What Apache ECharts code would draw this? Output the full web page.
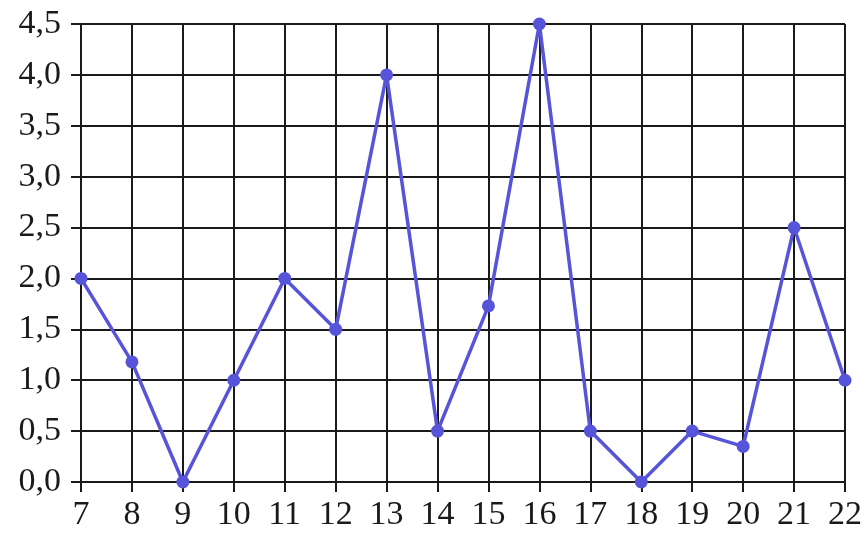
<!DOCTYPE html>
<html>
<head>
<meta charset="utf-8">
<script src="https://cdn.jsdelivr.net/npm/echarts@6/dist/echarts.min.js"></script>
<style>html,body{margin:0;padding:0;background:#fff}#c{width:866px;height:538px}</style>
</head>
<body>
<div id="c"></div>
<script>
var xValues = [7, 8, 9, 10, 11, 12, 13, 14, 15, 16, 17, 18, 19, 20, 21, 22];
var yValues = [2.0, 1.18, 0.0, 1.0, 2.0, 1.5, 4.0, 0.5, 1.73, 4.5, 0.5, 0.0, 0.5, 0.35, 2.5, 1.0];

var chart = echarts.init(document.getElementById('c'));
var font = '"Liberation Serif", "DejaVu Serif", serif';
var ink = '#1a1a1a';
chart.setOption({
  animation: false,
  grid: { left: 81, right: 21, top: 24, bottom: 56, containLabel: false },
  xAxis: {
    type: 'value', min: 7, max: 22, interval: 1,
    axisLine: { show: true, lineStyle: { color: ink, width: 2 } },
    axisTick: { show: true, length: 10, lineStyle: { color: ink, width: 2 } },
    axisLabel: { color: ink, fontFamily: font, fontSize: 34, margin: 16 },
    splitLine: { show: true, lineStyle: { color: ink, width: 2 } }
  },
  yAxis: {
    type: 'value', min: 0, max: 4.5, interval: 0.5,
    axisLine: { show: true, lineStyle: { color: ink, width: 2 } },
    axisTick: { show: true, length: 10, lineStyle: { color: ink, width: 2 } },
    axisLabel: { color: ink, fontFamily: font, fontSize: 34, margin: 20,
      formatter: function (v) { return v.toFixed(1).replace('.', ','); } },
    splitLine: { show: true, lineStyle: { color: ink, width: 2 } }
  },
  series: [{
    type: 'line',
    data: xValues.map(function (x, i) { return [x, yValues[i]]; }),
    clip: false,
    symbol: 'circle', symbolSize: 13,
    lineStyle: { color: '#5654d8', width: 3.5 },
    itemStyle: { color: '#5654d8' }
  }]
});
</script>
</body>
</html>
